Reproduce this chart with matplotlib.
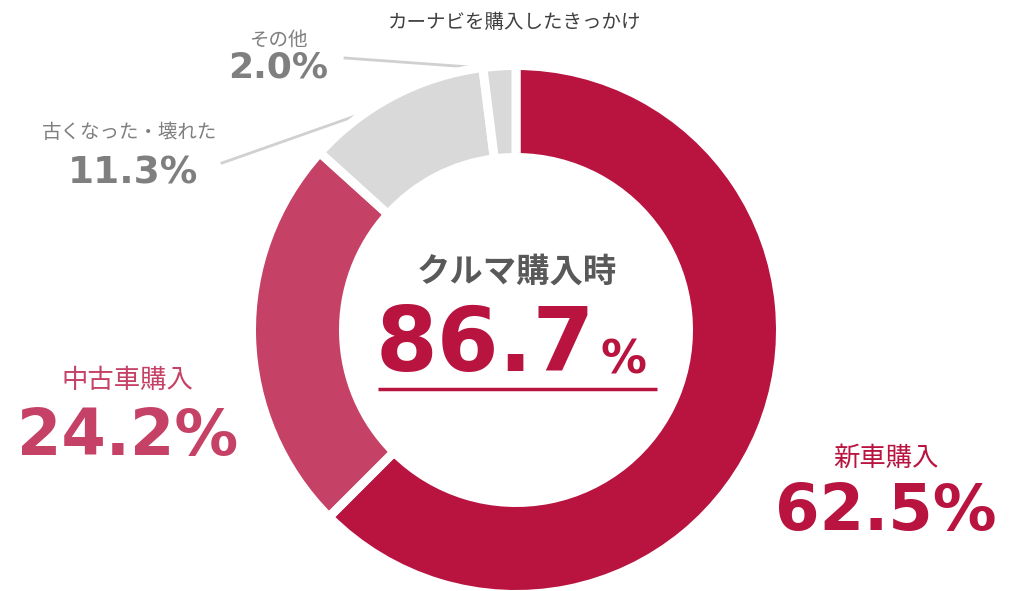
import matplotlib
matplotlib.use("Agg")
import matplotlib.pyplot as plt

categories = ["新車購入", "中古車購入", "古くなった・壊れた", "その他"]
values = [62.5, 24.2, 11.3, 2.0]
value_labels = ["62.5%", "24.2%", "11.3%", "2.0%"]
colors = ["#B8143F", "#C54266", "#D9D9D9", "#D9D9D9"]
title = "カーナビを購入したきっかけ"
center_label = "クルマ購入時"
center_value = "86.7"

W, H = 1024, 591
fig = plt.figure(figsize=(W / 100, H / 100), dpi=100)
ax = fig.add_axes([0, 0, 1, 1])
ax.set_xlim(0, W)
ax.set_ylim(0, H)
ax.set_aspect("equal")
ax.axis("off")

def Y(py):
    return H - py

cx, cy = 516, 330
r_out, r_in = 260, 177
lw_px = 9
ax.pie(values, colors=colors, startangle=90, counterclock=False,
       center=(cx, Y(cy)), radius=r_out + lw_px / 2,
       wedgeprops=dict(width=(r_out - r_in) + lw_px, edgecolor="white",
                       linewidth=lw_px * 0.72))
ax.set_xlim(0, W)
ax.set_ylim(0, H)

jp = ["Noto Sans CJK JP", "DejaVu Sans"]
num = ["DejaVu Sans"]

ax.text(515, Y(22), title, ha="center", va="center", fontsize=14,
        color="#404040", family=jp)

# leader lines
ax.plot([345, 484], [Y(58), Y(68)], color="#D0D0D0", lw=2, zorder=0.5)
ax.plot([222, 378], [Y(163), Y(108)], color="#D0D0D0", lw=2, zorder=0.5)

# その他
ax.text(278, Y(40), categories[3], ha="center", va="center", fontsize=14,
        color="#7F7F7F", family=jp)
ax.text(278, Y(68), value_labels[3], ha="center", va="center", fontsize=26,
        color="#7F7F7F", family=num, fontweight="bold")
# 古くなった
ax.text(130, Y(132), categories[2], ha="center", va="center", fontsize=14,
        color="#7F7F7F", family=jp)
ax.text(133, Y(174), value_labels[2], ha="center", va="center", fontsize=27,
        color="#7F7F7F", family=num, fontweight="bold")
# 中古車
ax.text(127, Y(380), categories[1], ha="center", va="center", fontsize=19,
        color="#C54266", family=jp)
ax.text(128, Y(437), value_labels[1], ha="center", va="center", fontsize=46,
        color="#C54266", family=num, fontweight="bold")
# 新車
ax.text(886, Y(458), categories[0], ha="center", va="center", fontsize=19,
        color="#B8143F", family=jp)
ax.text(886, Y(512), value_labels[0], ha="center", va="center", fontsize=46,
        color="#B8143F", family=num, fontweight="bold")

# center
ax.text(517, Y(272), center_label, ha="center", va="center", fontsize=24,
        color="#595959", family=jp, fontweight="bold")
ax.text(595, Y(347), center_value, ha="right", va="center", fontsize=64,
        color="#B8143F", family=num, fontweight="bold")
ax.text(601, Y(361), "%", ha="left", va="center", fontsize=33,
        color="#B8143F", family=num, fontweight="bold")
ax.plot([378, 657], [Y(389), Y(389)], color="#B8143F", lw=2.5,
        solid_capstyle="butt")

fig.savefig("out.png", dpi=100)
